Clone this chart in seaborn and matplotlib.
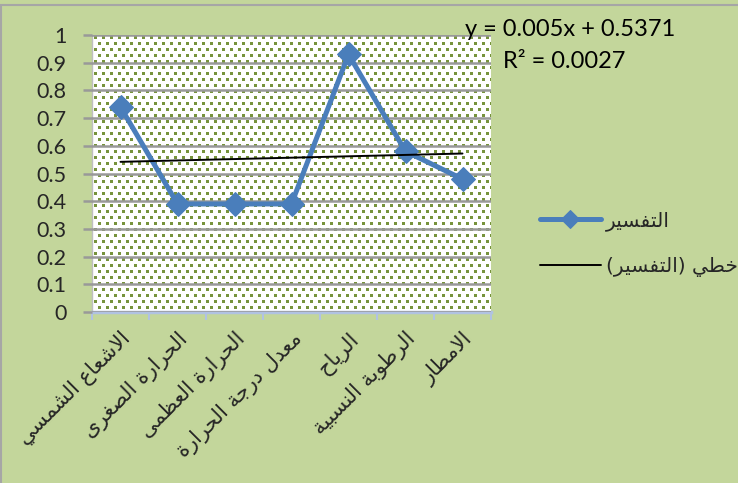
import numpy as np
import pandas as pd
import matplotlib
matplotlib.use("Agg")
import matplotlib.pyplot as plt
import seaborn as sns

# ---------------------------------------------------------------- data
categories = ["الاشعاع الشمسي", "الحرارة الصغرى", "الحرارة العظمى",
              "معدل درجة الحرارة", "الرياح", "الرطوبة النسبية", "الامطار"]
values = [0.74, 0.39, 0.39, 0.39, 0.93, 0.58, 0.48]
series_name = "التفسير"
trend_name = "خطي (التفسير)"
trend_slope = 0.005
trend_intercept = 0.5371
trend_r2 = 0.0027
y_ticks = [0, 0.1, 0.2, 0.3, 0.4, 0.5, 0.6, 0.7, 0.8, 0.9, 1]

# ------------------------------------------------ minimal Arabic shaping
# (isolated, final, initial, medial) presentation forms
FORMS = {
    "ا": ("\uFE8D", "\uFE8E", None, None),
    "أ": ("\uFE83", "\uFE84", None, None),
    "إ": ("\uFE87", "\uFE88", None, None),
    "ب": ("\uFE8F", "\uFE90", "\uFE91", "\uFE92"),
    "ة": ("\uFE93", "\uFE94", None, None),
    "ت": ("\uFE95", "\uFE96", "\uFE97", "\uFE98"),
    "ث": ("\uFE99", "\uFE9A", "\uFE9B", "\uFE9C"),
    "ج": ("\uFE9D", "\uFE9E", "\uFE9F", "\uFEA0"),
    "ح": ("\uFEA1", "\uFEA2", "\uFEA3", "\uFEA4"),
    "خ": ("\uFEA5", "\uFEA6", "\uFEA7", "\uFEA8"),
    "د": ("\uFEA9", "\uFEAA", None, None),
    "ذ": ("\uFEAB", "\uFEAC", None, None),
    "ر": ("\uFEAD", "\uFEAE", None, None),
    "ز": ("\uFEAF", "\uFEB0", None, None),
    "س": ("\uFEB1", "\uFEB2", "\uFEB3", "\uFEB4"),
    "ش": ("\uFEB5", "\uFEB6", "\uFEB7", "\uFEB8"),
    "ص": ("\uFEB9", "\uFEBA", "\uFEBB", "\uFEBC"),
    "ض": ("\uFEBD", "\uFEBE", "\uFEBF", "\uFEC0"),
    "ط": ("\uFEC1", "\uFEC2", "\uFEC3", "\uFEC4"),
    "ظ": ("\uFEC5", "\uFEC6", "\uFEC7", "\uFEC8"),
    "ع": ("\uFEC9", "\uFECA", "\uFECB", "\uFECC"),
    "غ": ("\uFECD", "\uFECE", "\uFECF", "\uFED0"),
    "ف": ("\uFED1", "\uFED2", "\uFED3", "\uFED4"),
    "ق": ("\uFED5", "\uFED6", "\uFED7", "\uFED8"),
    "ك": ("\uFED9", "\uFEDA", "\uFEDB", "\uFEDC"),
    "ل": ("\uFEDD", "\uFEDE", "\uFEDF", "\uFEE0"),
    "م": ("\uFEE1", "\uFEE2", "\uFEE3", "\uFEE4"),
    "ن": ("\uFEE5", "\uFEE6", "\uFEE7", "\uFEE8"),
    "ه": ("\uFEE9", "\uFEEA", "\uFEEB", "\uFEEC"),
    "و": ("\uFEED", "\uFEEE", None, None),
    "ى": ("\uFEEF", "\uFEF0", None, None),
    "ي": ("\uFEF1", "\uFEF2", "\uFEF3", "\uFEF4"),
}
LAM_ALEF = {"ا": ("\uFEFB", "\uFEFC"), "أ": ("\uFEF7", "\uFEF8"),
            "إ": ("\uFEF9", "\uFEFA")}
MIRROR = {"(": ")", ")": "("}


def shape(text):
    # merge lam + alef into ligature units first
    units = []
    i = 0
    while i < len(text):
        c = text[i]
        if c == "ل" and i + 1 < len(text) and text[i + 1] in LAM_ALEF:
            units.append(("LA", text[i + 1]))
            i += 2
        else:
            units.append(("C", c))
            i += 1

    def joins_forward(u):
        if u is None:
            return False
        if u[0] == "LA":
            return False
        f = FORMS.get(u[1])
        return f is not None and f[2] is not None

    def is_letter(u):
        return u is not None and (u[0] == "LA" or u[1] in FORMS)

    out = []
    for k, u in enumerate(units):
        prev = units[k - 1] if k > 0 else None
        nxt = units[k + 1] if k + 1 < len(units) else None
        pj = joins_forward(prev) and is_letter(u)
        if u[0] == "LA":
            out.append(LAM_ALEF[u[1]][1 if pj else 0])
            continue
        c = u[1]
        if c not in FORMS:
            out.append(MIRROR.get(c, c))
            continue
        f = FORMS[c]
        nj = f[2] is not None and is_letter(nxt)
        if pj and nj:
            out.append(f[3])
        elif pj:
            out.append(f[1])
        elif nj:
            out.append(f[2])
        else:
            out.append(f[0])
    return "".join(reversed(out))


# ---------------------------------------------------------------- style
BG = "#C3D69B"
DOT = "#77933C"
BLUE = "#4A7EBB"
sns.set_theme(style="white")
plt.rcParams["font.family"] = ["Lato", "DejaVu Sans"]

W, H = 738, 483
fig = plt.figure(figsize=(W / 100, H / 100), dpi=100, facecolor=BG)

# chart frame
frame = plt.Rectangle((1 / W, -0.1), 1.2, 1.1 - 5 / H, transform=fig.transFigure,
                      facecolor="none", edgecolor="#A6A6A6", linewidth=1.5)
fig.patches.append(frame)

ax_l, ax_r, ax_t, ax_b = 92, 491, 35, 312
ax = fig.add_axes([ax_l / W, 1 - ax_b / H, (ax_r - ax_l) / W, (ax_b - ax_t) / H])
ax.set_facecolor("white")

# dotted fill of the plot area
pw, ph = ax_r - ax_l, ax_b - ax_t
pattern = np.ones((ph, pw, 3))
dot_rgb = np.array(matplotlib.colors.to_rgb(DOT))
for r, y0 in enumerate(range(1, ph, 6)):
    off = 2 if r % 2 == 0 else 6
    for x0 in range(off, pw, 8):
        pattern[y0:y0 + 3, x0:x0 + 3] = dot_rgb
ax.imshow(pattern, extent=(0, 1, 0, 1), transform=ax.transAxes,
          aspect="auto", interpolation="nearest", zorder=0)

df = pd.DataFrame({"cat": [shape(c) for c in categories], "val": values})
df["pos"] = np.arange(len(df))

# main series
sns.lineplot(data=df, x="pos", y="val", ax=ax, color=BLUE, linewidth=3.6,
             marker="D", markersize=12, markeredgecolor=BLUE,
             markerfacecolor=BLUE, label=shape(series_name), zorder=4)

# linear trend line (Excel numbering starts at 1)
xs = df["pos"].to_numpy()
trend = trend_slope * (xs + 1) + trend_intercept
ax.plot([xs[0], xs[-1]], [trend[0], trend[-1]], color="black", linewidth=1.4,
        label=shape(trend_name), zorder=5)

ax.set_xlim(-0.5, len(df) - 0.5)
ax.set_ylim(0, 1)
ax.set_yticks(y_ticks)
ax.set_yticklabels([f"{t:g}" for t in y_ticks], fontsize=15.5)
ax.yaxis.grid(True, color="#999999", linewidth=1.8, zorder=1)
ax.set_axisbelow(False)
for gl in ax.get_ygridlines():
    gl.set_zorder(1)
ax.tick_params(axis="y", length=6.5, width=1.8, color="#999999", pad=12,
               left=True)

ax.set_xticks(xs)
ax.set_xticklabels(df["cat"], rotation=45, ha="right", rotation_mode="anchor",
                   fontsize=15, family="DejaVu Sans")
ax.set_xticks(np.arange(len(df) + 1) - 0.5, minor=True)
ax.tick_params(axis="x", which="major", length=0, pad=12)
ax.tick_params(axis="x", which="minor", length=6, width=1.5, color="#B0C2E2",
               bottom=True)
ax.set_xlabel("")
ax.set_ylabel("")

for s in ["top", "right"]:
    ax.spines[s].set_visible(False)
ax.spines["left"].set_color("#BFBFBF")
ax.spines["left"].set_linewidth(1.0)
ax.spines["bottom"].set_color("#B0C2E2")
ax.spines["bottom"].set_linewidth(2.5)

# trend equation
fig.text(570 / W, 1 - 30 / H, "y = 0.005x + 0.5371", fontsize=17, ha="center",
         va="center", color="black")
fig.text(564 / W, 1 - 61 / H, f"R² = {trend_r2:.4f}", fontsize=17, ha="center",
         va="center", color="black")

leg = ax.legend(loc="center left", bbox_to_anchor=(522 / W, 1 - 244 / H),
                bbox_transform=fig.transFigure, frameon=False,
                handlelength=3.0, labelspacing=1.3, handletextpad=0.25,
                markerscale=0.75,
                prop={"family": "DejaVu Sans", "size": 14.5})

fig.savefig("out.png", dpi=100, facecolor=BG)
